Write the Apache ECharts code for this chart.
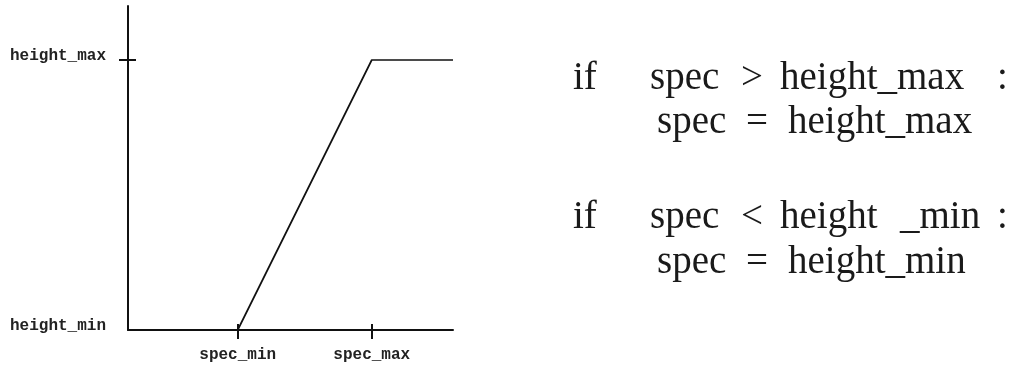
<!DOCTYPE html>
<html>
<head>
<meta charset="utf-8">
<script src="https://cdn.jsdelivr.net/npm/echarts@6/dist/echarts.min.js"></script>
<style>
  html, body { margin: 0; padding: 0; background: #fff; }
  #chart { width: 1029px; height: 366px; }
</style>
</head>
<body>
<div id="chart"></div>
<script>
// Clamp curve: spec is held between height_min and height_max.
const specRange = [0, 4];
const heightRange = [0, 6];
const specTicks = [1.35, 3];
const specTickNames = ['spec_min', 'spec_max'];
const heightTicks = [0, 5];
const heightTickNames = ['height_min', 'height_max'];
const heightMarkTicks = [5];
const curveSpec = [1.35, 3, 4];
const curveHeight = [0, 5, 5];

// Rule text, one list of words per line.
const ruleLine1 = ['if', 'spec', '>', 'height_max', ':'];
const ruleLine2 = ['spec', '=', 'height_max'];
const ruleLine3 = ['if', 'spec', '<', 'height', '_min', ':'];
const ruleLine4 = ['spec', '=', 'height_min'];

// Where each word of the rule text starts (x) and the line's middle (y).
const ruleLayout = [
  { words: ruleLine1, y: 79,  xs: [573, 650, 741, 780, 997] },
  { words: ruleLine2, y: 123, xs: [657, 746, 788] },
  { words: ruleLine3, y: 218, xs: [573, 650, 741, 780, 900, 997] },
  { words: ruleLine4, y: 263, xs: [657, 746, 788] }
];

const ink = '#111';
const labelFont = '"Liberation Mono", monospace';

const curveData = curveSpec.map((s, i) => [s, curveHeight[i]]);

const graphic = [];
ruleLayout.forEach(line => {
  line.words.forEach((w, i) => {
    graphic.push({
      type: 'text',
      x: line.xs[i],
      y: line.y,
      silent: true,
      style: {
        text: w,
        font: '39px "Liberation Serif", serif',
        fill: '#1a1a1a',
        align: 'left',
        verticalAlign: 'middle'
      }
    });
  });
});

const tickStyle = { color: ink, width: 2 };

const option = {
  animation: false,
  backgroundColor: '#fff',
  grid: { left: 128, top: 6, width: 325, height: 324, containLabel: false },
  xAxis: [
    {
      type: 'value', min: specRange[0], max: specRange[1], position: 'bottom',
      axisLine: { show: true, onZero: false, lineStyle: { color: ink, width: 2 } },
      axisTick: { show: true, customValues: specTicks, length: 9, lineStyle: tickStyle },
      axisLabel: {
        show: true, customValues: specTicks, margin: 17,
        fontFamily: labelFont, fontSize: 16, fontWeight: 'bold', color: '#222',
        formatter: v => specTickNames[specTicks.indexOf(v)]
      },
      splitLine: { show: false }
    },
    {
      type: 'value', min: specRange[0], max: specRange[1], position: 'bottom',
      axisLine: { show: false, onZero: false },
      axisTick: { show: true, inside: true, customValues: specTicks, length: 6, lineStyle: tickStyle },
      axisLabel: { show: false },
      splitLine: { show: false }
    }
  ],
  yAxis: [
    {
      type: 'value', min: heightRange[0], max: heightRange[1], position: 'left',
      axisLine: { show: true, onZero: false, lineStyle: { color: ink, width: 2 } },
      axisTick: { show: true, customValues: heightMarkTicks, length: 9, lineStyle: tickStyle },
      axisLabel: {
        show: true, customValues: heightTicks, margin: 22,
        fontFamily: labelFont, fontSize: 16, fontWeight: 'bold', color: '#222',
        lineHeight: 8,
        // trailing empty line lifts the name so it sits on the tick
        formatter: v => heightTickNames[heightTicks.indexOf(v)] + '\n'
      },
      splitLine: { show: false }
    },
    {
      type: 'value', min: heightRange[0], max: heightRange[1], position: 'left',
      axisLine: { show: false, onZero: false },
      axisTick: { show: true, inside: true, customValues: heightMarkTicks, length: 8, lineStyle: tickStyle },
      axisLabel: { show: false },
      splitLine: { show: false }
    }
  ],
  series: [
    {
      type: 'line',
      xAxisIndex: 0,
      yAxisIndex: 0,
      data: curveData,
      showSymbol: false,
      clip: false,
      lineStyle: { color: ink, width: 1.7 }
    }
  ],
  graphic: graphic
};

const chart = echarts.init(document.getElementById('chart'), null, { renderer: 'canvas' });
chart.setOption(option);
</script>
</body>
</html>
